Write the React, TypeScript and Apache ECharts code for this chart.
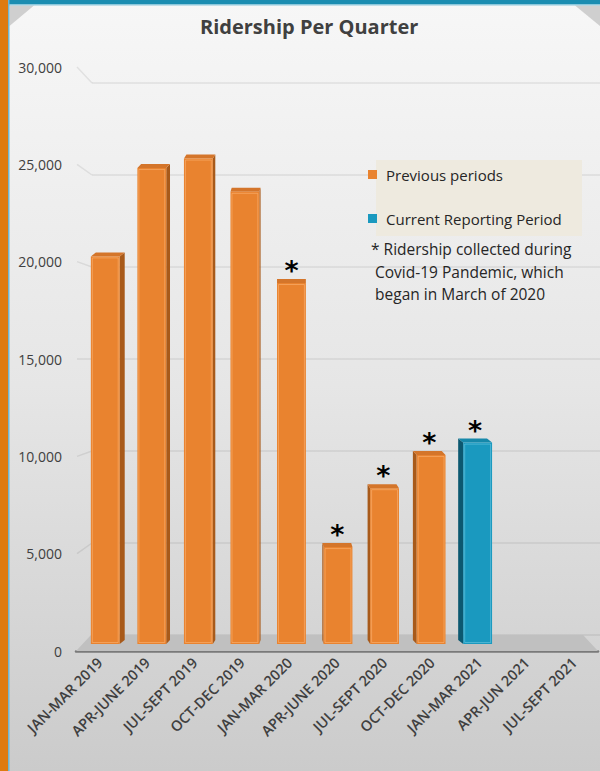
import React, { useEffect, useRef } from "react";
import * as echarts from "echarts";

const categories = [
  "JAN-MAR 2019",
  "APR-JUNE 2019",
  "JUL-SEPT 2019",
  "OCT-DEC 2019",
  "JAN-MAR 2020",
  "APR-JUNE 2020",
  "JUL-SEPT 2020",
  "OCT-DEC 2020",
  "JAN-MAR 2021",
  "APR-JUN 2021",
  "JUL-SEPT 2021",
];
const ridership: (number | null)[] = [20400, 25050, 25550, 23800, 19000, 5100, 8200, 9950, 10600, null, null];
const isCurrentPeriod = [false, false, false, false, false, false, false, false, true, false, false];
const duringPandemic = [false, false, false, false, true, true, true, true, true, false, false];
const yTicks = [0, 5000, 10000, 15000, 20000, 25000, 30000];
const seriesNames = ["Previous periods", "Current Reporting Period"];
const noteLines = ["* Ridership collected during", " Covid-19 Pandemic, which", " began in March of 2020"];
const chartTitle = "Ridership Per Quarter";

const Y_MIN = yTicks[0];
const Y_MAX = yTicks[yTicks.length - 1];
const Y_STEP = yTicks[1] - yTicks[0];

const ORANGE = { front: "#E9832F", side: "#A85A1A", top: "#D4752A", edge: "rgba(255,190,130,0.5)" };
const BLUE = { front: "#1A99BF", side: "#0C5870", top: "#1688AA", edge: "rgba(150,220,240,0.4)" };

const FONT = "'Open Sans', 'Noto Sans', sans-serif";
const VANISH_X = 291;
const DEPTH_K = 0.027;
const DEPTH_Y = 4;
const BAR_RATIO = 0.62;

function makeRender(pal: typeof ORANGE) {
  return (params: any, api: any) => {
    const idx = api.value(0);
    const val = api.value(1);
    const flag = api.value(2);
    const top = api.coord([idx, val]);
    const base = api.coord([idx, 0]);
    const band = api.size([1, 0])[0];
    const w = band * BAR_RATIO;
    const cx = top[0];
    const x0 = cx - w / 2;
    const x1 = cx + w / 2;
    const yT = top[1];
    const yB = base[1];
    const dx = (VANISH_X - cx) * DEPTH_K;
    const dy = -DEPTH_Y;
    const children: any[] = [];
    const sx = dx >= 0 ? x1 : x0;
    children.push({
      type: "polygon",
      shape: { points: [[sx, yT], [sx + dx, yT + dy], [sx + dx, yB + dy], [sx, yB]] },
      style: { fill: pal.side },
    });
    children.push({
      type: "polygon",
      shape: { points: [[x0, yT], [x0 + dx, yT + dy], [x1 + dx, yT + dy], [x1, yT]] },
      style: { fill: pal.top },
    });
    children.push({
      type: "rect",
      shape: { x: x0, y: yT, width: w, height: yB - yT },
      style: { fill: pal.front },
    });
    children.push({
      type: "rect",
      shape: { x: x0 + 1.5, y: yT + 1.5, width: w - 3, height: yB - yT - 3 },
      style: { fill: "none", stroke: pal.edge, lineWidth: 1 },
    });
    if (flag) {
      children.push({
        type: "text",
        style: {
          text: "*",
          x: cx + dx / 2,
          y: yT + dy + 5,
          align: "center",
          verticalAlign: "bottom",
          fontSize: 27,
          fontWeight: "bold",
          fontFamily: "'DejaVu Sans', sans-serif",
          fill: "#000",
        },
      });
    }
    return { type: "group", children };
  };
}

export default function App() {
  const ref = useRef<HTMLDivElement>(null);
  useEffect(() => {
    if (!ref.current) return;
    const chart = echarts.init(ref.current, undefined, { renderer: "svg" });

    const prevData: any[] = [];
    const curData: any[] = [];
    categories.forEach((_, i) => {
      const v = ridership[i];
      if (v == null) return;
      const item = [i, v, duringPandemic[i] ? 1 : 0];
      (isCurrentPeriod[i] ? curData : prevData).push(item);
    });

    const FRONT = { left: 76, right: 2, top: 67, bottom: 120 };
    const BACK = { left: 92, right: 0, top: 83, bottom: 136 };
    const BARS = { left: 82, right: 6, top: 74, bottom: 127 };
    const H = 771;
    const frontY = (v: number) => FRONT.top + ((Y_MAX - v) / (Y_MAX - Y_MIN)) * (H - FRONT.top - FRONT.bottom);
    const backY = (v: number) => BACK.top + ((Y_MAX - v) / (Y_MAX - Y_MIN)) * (H - BACK.top - BACK.bottom);

    const connectors = yTicks
      .filter((v) => v > Y_MIN)
      .map((v) => ({
        type: "line",
        z: 1,
        shape: { x1: FRONT.left + 1, y1: frontY(v), x2: BACK.left, y2: backY(v) },
        style: { stroke: "rgba(0,0,0,0.08)", lineWidth: 1.5 },
      }));

    const option: any = {
      animation: false,
      backgroundColor: {
        type: "linear",
        x: 0,
        y: 0,
        x2: 0,
        y2: 1,
        colorStops: [
          { offset: 0, color: "#f7f7f7" },
          { offset: 0.5, color: "#e6e6e6" },
          { offset: 1, color: "#cbcbcb" },
        ],
      },
      title: {
        text: chartTitle,
        left: 200,
        top: 16,
        padding: 0,
        textStyle: { fontFamily: FONT, fontSize: 20, fontWeight: "bold", color: "#404040" },
      },
      legend: {
        orient: "vertical",
        left: 363,
        top: 160,
        itemWidth: 9,
        itemHeight: 9,
        itemGap: 25,
        icon: "rect",
        data: seriesNames,
        textStyle: { fontFamily: FONT, fontSize: 15, color: "#262626", padding: [0, 0, 0, 4], lineHeight: 19 },
      },
      grid: [
        { ...FRONT },
        { ...BACK },
        { ...BARS },
      ],
      xAxis: [
        {
          type: "category",
          gridIndex: 0,
          data: categories,
          axisLine: { lineStyle: { color: "#7a7a7a", width: 2.5 } },
          axisTick: { show: false },
          axisLabel: {
            rotate: 45,
            interval: 0,
            margin: 9,
            fontFamily: FONT,
            fontSize: 14.5,
            fontWeight: 600,
            color: "#404040",
          },
        },
        { type: "category", gridIndex: 1, data: categories, show: false },
        { type: "category", gridIndex: 2, data: categories, show: false },
      ],
      yAxis: [
        {
          type: "value",
          gridIndex: 0,
          min: Y_MIN,
          max: Y_MAX,
          interval: Y_STEP,
          axisLine: { show: false },
          axisTick: { show: false },
          splitLine: { show: false },
          axisLabel: {
            margin: 14,
            fontFamily: FONT,
            fontSize: 14,
            color: "#404040",
            formatter: (v: number) => v.toLocaleString("en-US"),
          },
        },
        {
          type: "value",
          gridIndex: 1,
          min: Y_MIN,
          max: Y_MAX,
          interval: Y_STEP,
          axisLine: { show: false },
          axisTick: { show: false },
          axisLabel: { show: false },
          splitLine: { show: true, lineStyle: { color: "rgba(0,0,0,0.08)", width: 1.5 } },
        },
        {
          type: "value",
          gridIndex: 2,
          min: Y_MIN,
          max: Y_MAX,
          show: false,
        },
      ],
      graphic: [
        { type: "rect", z: 10, shape: { x: 0, y: 0, width: 600, height: 4 }, style: { fill: "#1B8DB1" } },
        { type: "rect", z: 10, shape: { x: 0, y: 4, width: 600, height: 1.5 }, style: { fill: "#8cc8dc" } },
        { type: "rect", z: 10, shape: { x: 0, y: 0, width: 8, height: 771 }, style: { fill: "#DE7B0F" } },
        { type: "rect", z: 10, shape: { x: 8, y: 0, width: 1.5, height: 771 }, style: { fill: "#6db6cf" } },
        { type: "polygon", z: 1, shape: { points: [[9.5, 5.5], [34, 5.5], [9.5, 26]] }, style: { fill: "#cfcfcf" } },
        { type: "polygon", z: 1, shape: { points: [[575, 5.5], [600, 5.5], [600, 26]] }, style: { fill: "#cfcfcf" } },
        {
          type: "polygon",
          z: 1,
          shape: { points: [[76, 651], [598, 651], [583, 635], [91, 635]] },
          style: { fill: "#c0c0c0" },
        },
        ...connectors,
        { type: "rect", z: 1, shape: { x: 376, y: 160, width: 206, height: 76 }, style: { fill: "#EEEADF" } },
        {
          type: "text",
          z: 5,
          x: 371,
          y: 238,
          style: {
            text: noteLines.join("\n"),
            fontFamily: FONT,
            fontSize: 15.5,
            lineHeight: 22.5,
            fill: "#262626",
          },
        },
      ],
      series: [
        {
          name: seriesNames[0],
          type: "custom",
          xAxisIndex: 2,
          yAxisIndex: 2,
          itemStyle: { color: ORANGE.front },
          encode: { x: 0, y: 1 },
          data: prevData,
          renderItem: makeRender(ORANGE),
          z: 3,
        },
        {
          name: seriesNames[1],
          type: "custom",
          xAxisIndex: 2,
          yAxisIndex: 2,
          itemStyle: { color: BLUE.front },
          encode: { x: 0, y: 1 },
          data: curData,
          renderItem: makeRender(BLUE),
          z: 3,
        },
      ],
    };
    chart.setOption(option);
    return () => chart.dispose();
  }, []);

  return (
    <div
      ref={ref}
      style={{ position: "fixed", left: 0, top: 0, width: 600, height: 771 }}
    />
  );
}
